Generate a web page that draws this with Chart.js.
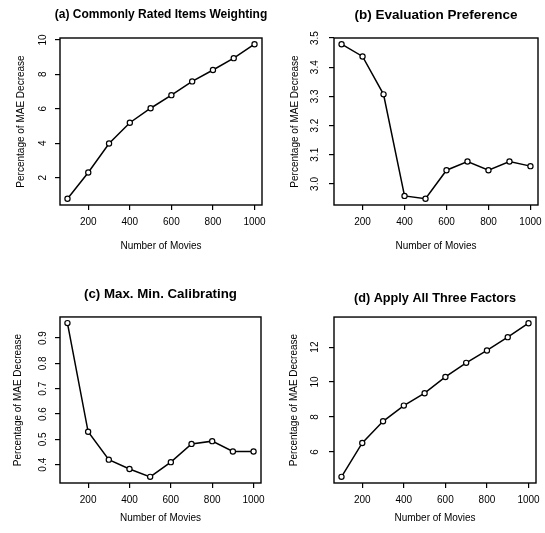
<!DOCTYPE html>
<html>
<head>
<meta charset="utf-8">
<script src="https://cdn.jsdelivr.net/npm/chart.js@4/dist/chart.umd.min.js"></script>
<style>
    html, body { margin: 0; padding: 0; background: #fff; }
    #wrap { position: relative; width: 545px; height: 533px; }
    .panel { position: absolute; }
</style>
</head>
<body>
<div id="wrap">
    <div class="panel" style="left:0;top:0;width:272px;height:266px"><canvas id="chart_a"></canvas></div>
    <div class="panel" style="left:272px;top:0;width:273px;height:266px"><canvas id="chart_b"></canvas></div>
    <div class="panel" style="left:0;top:266px;width:272px;height:267px"><canvas id="chart_c"></canvas></div>
    <div class="panel" style="left:272px;top:266px;width:273px;height:267px"><canvas id="chart_d"></canvas></div>
</div>
<script>
// number of movies (x) shared by all four panels
const movies = [100, 200, 300, 400, 500, 600, 700, 800, 900, 1000];
const movieTicks = [200, 400, 600, 800, 1000];

// percentage of MAE decrease
const weightingDecrease = [0.77, 2.3, 3.98, 5.19, 6.03, 6.79, 7.59, 8.25, 8.94, 9.75];
const preferenceDecrease = [3.479, 3.437, 3.307, 2.959, 2.949, 3.047, 3.077, 3.047, 3.077, 3.061];
const calibratingDecrease = [0.959, 0.53, 0.42, 0.383, 0.352, 0.41, 0.482, 0.493, 0.452, 0.452];
const allFactorsDecrease = [4.57, 6.51, 7.75, 8.65, 9.36, 10.29, 11.1, 11.81, 12.57, 13.37];

const weightingTicks = [2, 4, 6, 8, 10];
const preferenceTicks = [3.0, 3.1, 3.2, 3.3, 3.4, 3.5];
const calibratingTicks = [0.4, 0.5, 0.6, 0.7, 0.8, 0.9];
const allFactorsTicks = [6, 8, 10, 12];

const titles = [
    '(a) Commonly Rated Items Weighting',
    '(b) Evaluation Preference',
    '(c) Max. Min. Calibrating',
    '(d) Apply All Three Factors'
];
const xTitle = 'Number of Movies';
const yTitle = 'Percentage of MAE Decrease';

Chart.defaults.font.family = '"Liberation Sans", Arial, sans-serif';
Chart.defaults.color = '#000';

// R style range: data range stretched by 4% each side
function rRange(arr) {
    const lo = Math.min(...arr), hi = Math.max(...arr);
    const r = (hi - lo) * 0.04;
    return { min: lo - r, max: hi + r };
}

const boxPlugin = {
    id: 'box',
    afterLayout(chart) {
        // title is centred over the plot box but may run past its edges
        const t = chart.titleBlock;
        if (t) { t.left -= 25; t.right += 25; t.width = t.right - t.left; }
    },
    afterDraw(chart) {
        const { ctx, chartArea: { left, top, right, bottom } } = chart;
        ctx.save();
        ctx.strokeStyle = '#000';
        ctx.lineWidth = 1.4;
        ctx.strokeRect(left, top, right - left, bottom - top);
        ctx.restore();
    }
};

function makePanel(id, title, values, yTicks, decimals, lay) {
    const xr = rRange(movies);
    const yr = rRange(values);
    const ctx = document.getElementById(id).getContext('2d');
    return new Chart(ctx, {
        type: 'line',
        data: {
            labels: movies,
            datasets: [{
                data: movies.map((m, i) => ({ x: m, y: values[i] })),
                borderColor: '#000',
                borderWidth: 1.5,
                pointRadius: 2.6,
                pointBorderWidth: 1.2,
                pointBorderColor: '#000',
                pointBackgroundColor: '#fff',
                tension: 0,
                fill: false
            }]
        },
        options: {
            responsive: true,
            maintainAspectRatio: false,
            animation: false,
            layout: { padding: { left: 0, right: lay.right, top: 0, bottom: 0 } },
            plugins: {
                legend: { display: false },
                tooltip: { enabled: false },
                title: {
                    display: true,
                    text: title,
                    fullSize: false,
                    font: { size: lay.titleSize, weight: 'bold' },
                    padding: { top: lay.titleTop, bottom: lay.titleBottom }
                }
            },
            scales: {
                x: {
                    type: 'linear',
                    min: xr.min,
                    max: xr.max,
                    afterBuildTicks: s => { s.ticks = movieTicks.map(v => ({ value: v })); },
                    afterFit: s => { s.height = lay.xHeight; s.paddingLeft = 0; s.paddingRight = 0; },
                    grid: { drawOnChartArea: false, drawTicks: true, tickLength: 5, color: '#000', lineWidth: 1.2 },
                    border: { display: false },
                    ticks: { font: { size: 10 }, padding: 6, autoSkip: false, maxRotation: 0, callback: v => String(v) },
                    title: { display: true, text: xTitle, font: { size: 10 }, padding: { top: 0, bottom: lay.xTitlePad } }
                },
                y: {
                    min: yr.min,
                    max: yr.max,
                    afterBuildTicks: s => { s.ticks = yTicks.map(v => ({ value: v })); },
                    afterFit: s => { s.width = lay.yWidth; s.paddingTop = 0; s.paddingBottom = 0; },
                    grid: { drawOnChartArea: false, drawTicks: true, tickLength: 5, color: '#000', lineWidth: 1.2 },
                    border: { display: false },
                    ticks: {
                        font: { size: 10 },
                        padding: lay.yTickPad,
                        autoSkip: false,
                        minRotation: 90,
                        maxRotation: 90,
                        crossAlign: 'center',
                        callback: v => v.toFixed(decimals)
                    },
                    title: { display: true, text: yTitle, font: { size: 10 }, padding: { top: lay.yTitlePad, bottom: 0 } }
                }
            }
        },
        plugins: [boxPlugin]
    });
}

makePanel('chart_a', titles[0], weightingDecrease, weightingTicks, 0,
    { right: 10, titleSize: 12, titleTop: 7.8, titleBottom: 15.8, xHeight: 61, xTitlePad: 14, yWidth: 60, yTickPad: 6.4, yTitlePad: 15 });
makePanel('chart_b', titles[1], preferenceDecrease, preferenceTicks, 1,
    { right: 7, titleSize: 13.5, titleTop: 6.9, titleBottom: 14.9, xHeight: 61, xTitlePad: 14, yWidth: 62, yTickPad: 7, yTitlePad: 17 });
makePanel('chart_c', titles[2], calibratingDecrease, calibratingTicks, 1,
    { right: 11, titleSize: 13.3, titleTop: 20, titleBottom: 15, xHeight: 50, xTitlePad: 8.7, yWidth: 60, yTickPad: 5, yTitlePad: 12 });
makePanel('chart_d', titles[3], allFactorsDecrease, allFactorsTicks, 0,
    { right: 9, titleSize: 12.7, titleTop: 24.4, titleBottom: 11.4, xHeight: 50, xTitlePad: 8.3, yWidth: 62, yTickPad: 8.4, yTitlePad: 16 });
</script>
</body>
</html>
